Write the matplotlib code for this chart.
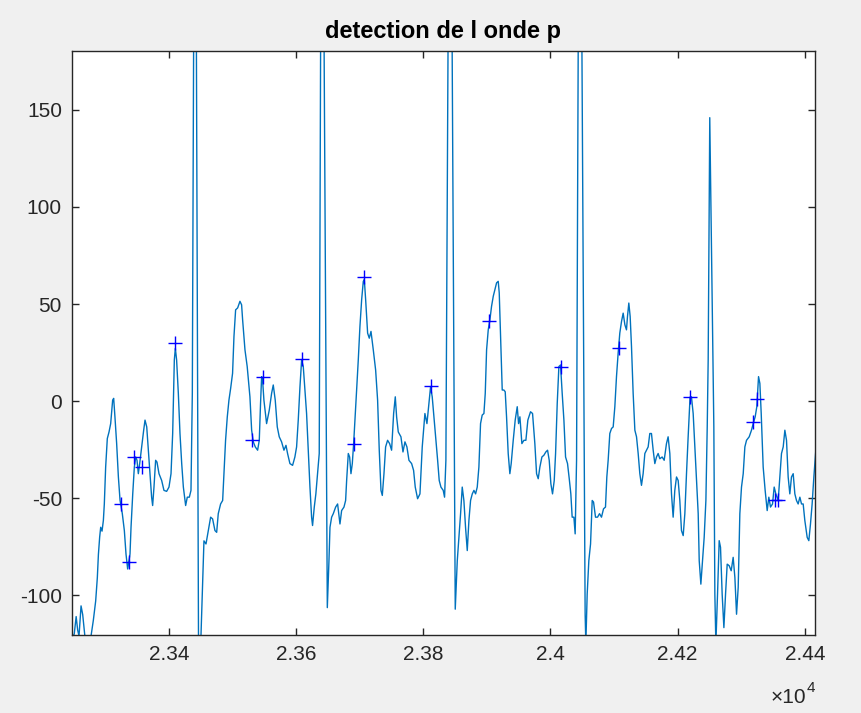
import matplotlib
matplotlib.use("Agg")
import matplotlib.pyplot as plt
from matplotlib.ticker import FixedLocator, FuncFormatter

plt.rcParams['font.family'] = ['Liberation Sans', 'DejaVu Sans']

# ECG signal (sample index, amplitude)
sig_x = [23244, 23251, 23254, 23256.4, 23258.5, 23261.7, 23264.3, 23268, 23273, 23277.4,
         23281, 23284.7, 23287.3, 23289, 23291, 23292.6, 23294.7, 23296.8, 23298.3, 23300.4,
         23303, 23305.7, 23308.3, 23311.4, 23313, 23315, 23317.7, 23320.4, 23323, 23326.6,
         23329.8, 23332.4, 23335, 23338.7, 23340.3, 23343, 23345.5, 23347.6, 23349.7, 23351.8,
         23353.9, 23357, 23360.2, 23362.3, 23365, 23367.5, 23370.1, 23372.7, 23374.3, 23376.4,
         23379, 23381.1, 23384.3, 23388.5, 23392.1, 23396.3, 23400, 23403.2, 23405.8, 23408.4,
         23410, 23412, 23414.7, 23417.3, 23420, 23422.6, 23426.2, 23428.8, 23432, 23434.6,
         23436.7, 23441, 23446.6, 23450.3,
         23455, 23458.2, 23461.8, 23465.5, 23468.6, 23472.3, 23475, 23477.5, 23481.2, 23484.4,
         23486.5, 23489, 23491.7, 23494.3, 23497, 23500, 23502.2, 23504.8, 23508, 23511.6,
         23514.2, 23515.8, 23519.5, 23523, 23527.3, 23530, 23532.6, 23535.7, 23539.4, 23542,
         23544, 23545.7, 23547.2, 23549.3, 23553.5, 23557.7, 23561.4, 23564, 23567.1, 23570.3,
         23573.4, 23577.1, 23580.8, 23584, 23586.5, 23590.2, 23594.4, 23598, 23600.7, 23603.3,
         23606, 23608.6, 23611.2, 23613.8, 23616.4, 23619, 23621.7, 23624.3, 23625.8, 23628.5,
         23631, 23633.7, 23636.3, 23640.5, 23649,
         23651.6, 23653.2, 23655.8, 23658.4, 23662.1, 23665.2, 23668.9, 23671.5, 23675.2, 23677.8,
         23679.4, 23682, 23684.1, 23686.2, 23688.3, 23690.4, 23692.5, 23695.1, 23697.7, 23700.3,
         23703, 23705.6, 23707.2, 23709.3, 23712.4, 23715, 23717.7, 23721.3, 23725, 23728.1,
         23730.7, 23733.4, 23735.5, 23738.1, 23740.7, 23743.8, 23747, 23750.1, 23753.3, 23755.9,
         23758, 23760.6, 23764.8, 23768, 23771.1, 23774.2, 23777.4, 23781.6, 23784.7, 23787.3,
         23791, 23794.7, 23798.3, 23802.5, 23805.7, 23808.3, 23811.4, 23814, 23816.7, 23819.8,
         23822.5, 23825, 23827.7, 23831.3, 23833.4, 23835.5, 23842, 23850.2,
         23853.4, 23856, 23858.6, 23861.2, 23863.8, 23866.4, 23869.1, 23871.7, 23874.3, 23877,
         23879.6, 23882.2, 23884.8, 23887.4, 23890, 23892.6, 23895.3, 23897.4, 23899.5, 23902.1,
         23904.7, 23907.3, 23910, 23912.6, 23915.2, 23917.8, 23919.4, 23921.5, 23924.1, 23926.7,
         23928.8, 23930.9, 23933.5, 23936.1, 23938.2, 23941.4, 23944.5, 23947.7, 23949.8, 23951.9,
         23955, 23958.2, 23961.3, 23964.4, 23968.6, 23971.8, 23975.4, 23978.1, 23980.7, 23983.3,
         23986.5, 23989.6, 23992.7, 23995.4, 23998, 24000.6, 24003.2, 24005.9, 24008, 24010.6,
         24013.2, 24015.8, 24018.4, 24021.1, 24023.7, 24026.8, 24029.5, 24032, 24034.1, 24036.8,
         24038.8, 24041, 24046, 24054.5, 24055.6,
         24057.7, 24060.3, 24063, 24065.6, 24067.7, 24070.8, 24074, 24077.1, 24080.2, 24083.4,
         24086.5, 24088.6, 24090.7, 24093.3, 24096, 24098.6, 24101.2, 24103.8, 24106.4, 24109,
         24111.7, 24114.3, 24117, 24119.5, 24121.1, 24123.2, 24125.3, 24127.4, 24130, 24132.7,
         24135.3, 24137.9, 24140.5, 24143.1, 24145.7, 24148.4, 24151, 24153.6, 24156.2, 24158.8,
         24161.5, 24164.1, 24166.7, 24169.3, 24172, 24175.6, 24178.8, 24182.4, 24185, 24187.7,
         24190.3, 24192.9, 24195.5, 24198.2, 24200.8, 24203.4, 24206, 24208.7, 24211.3, 24213.9,
         24216.5, 24219.5, 24221.7, 24224.4, 24227.1, 24229.7, 24232.3, 24233.9, 24236.5, 24239.1,
         24241.7, 24244.4, 24246.5, 24248, 24250.5, 24256.9, 24258.5, 24260.1,
         24262.7, 24265.3, 24267.4, 24270, 24272.7, 24275.3, 24277.9, 24281, 24284.2, 24287.3,
         24290, 24292.6, 24295.2, 24297.8, 24300.4, 24303.1, 24305.7, 24308.3, 24312.5, 24316.1,
         24318.8, 24321.9, 24324.5, 24327.2, 24329.3, 24331.4, 24334.5, 24337.6, 24340.8, 24343.4,
         24346, 24349.2, 24351.8, 24354.4, 24358.1, 24360.7, 24363.3, 24366, 24368.6, 24371.2,
         24373.8, 24376.4, 24379, 24381.7, 24384.3, 24386.9, 24389.5, 24392.2, 24394.8, 24397.4,
         24400, 24403.7, 24406.3, 24408.9, 24411.5, 24414.2, 24417.3, 24420]

sig_y = [-124, -120, -111, -118, -121, -105.5, -110, -122, -123, -121,
         -113, -103, -91, -79, -70, -65, -67, -61.5, -53, -34,
         -19.3, -15.9, -11.6, 0.5, 1.4, -8.1, -21.9, -39, -51, -58,
         -66.7, -78.8, -86.5, -78.8, -65, -47.8, -34, -28.8, -30.5, -37.4,
         -32.2, -23.6, -15, -9.8, -13.3, -25.3, -37.4, -49.5, -53.8, -44.3,
         -30.5, -31.4, -37.4, -40.9, -46, -46.5, -44.3, -37.4, -16.7, 21.2,
         27.2, 21.2, 4, -16.7, -32.2, -44.3, -53.8, -49.5, -49.5, -46,
         4, 380, -140, -121,
         -72, -73.6, -66.7, -59.8, -60.7, -66.7, -67.6, -58, -53, -51.2,
         -37.4, -20.2, -8.1, 0.5, 6.6, 14.3, 33.3, 47, 48, 51.4,
         49.6, 41.9, 26.4, 17.8, 2.2, -15, -21, -23.6, -25.3, -20.2,
         -1.2, 12.6, 10.9, 0.5, -11.6, -4.7, 4, 8.3, 0.5, -13.3,
         -18.4, -21, -25.3, -22.8, -27, -32.2, -33.1, -28.8, -23.6, -9.8,
         7.4, 21.2, 17.8, 5.7, -6.4, -25.3, -44.3, -59.8, -64.1, -54.6,
         -47.8, -37.4, -27, 380, -106.4,
         -82.2, -65, -59.8, -58, -54.6, -53, -63.3, -56.4, -54.6, -51.2,
         -40.9, -27, -28.8, -37.4, -32.2, -21.9, -9.8, 5.7, 21.2, 38.4,
         52.2, 61.7, 62.6, 52.2, 35, 32.4, 35.9, 26.4, 16, 0.5,
         -25.3, -46, -48.6, -37.4, -23.6, -20.2, -21.9, -25.3, -6.4, 2.2,
         -8.1, -15.9, -18.4, -26.2, -21, -23.6, -30.5, -32.2, -35.7, -44.3,
         -50.3, -47.8, -23.6, -6.4, -11.6, -2.9, 7.4, 2.2, -8.1, -20.2,
         -30.5, -40.9, -44.3, -46, -49.5, -30.5, 380, -107.2,
         -82.2, -70.2, -58, -44.3, -51.2, -65, -77, -61.5, -51.2, -47.8,
         -46, -47.8, -44.3, -34, -11.6, -7.2, -6.4, 4, 26.4, 36.7,
         41.9, 48.8, 54, 57.4, 60.9, 61.7, 55.7, 33.3, 5.7, 5.7,
         4.8, -8.1, -27, -37.4, -32.2, -20.2, -9.8, -2.9, -11.6, -8.1,
         -21.9, -20.2, -20.2, -9.8, -5.5, -6.4, -21.9, -37.4, -40, -34,
         -28.8, -27.9, -26.2, -25.3, -30.5, -42.6, -47.8, -40.9, -27, -1.2,
         17.8, 18.6, 4, -9.8, -28.8, -32.2, -40, -47.8, -59.8, -59.8,
         -68.4, -30.5, 380, -110, -125,
         -99.5, -82.2, -73.6, -51.2, -52, -59.8, -59.8, -58, -59.8, -55.5,
         -54.6, -39.1, -30.5, -16.7, -14.1, -13.3, -2.9, 12.6, 24.7, 35,
         41, 45.3, 39.3, 36.7, 43.6, 50.5, 43.6, 28.1, 4, -15,
         -18.4, -27, -37.4, -43.4, -37.4, -27, -25.3, -23.6, -16.7, -16.7,
         -25.3, -32.2, -28.8, -27, -29.7, -28.8, -30.5, -21.9, -18.4, -27,
         -47.8, -59.8, -46, -39.1, -40.9, -51.2, -66.7, -69.3, -58, -37.4,
         -18.4, 2, 2.2, -6.4, -23.6, -40.9, -58, -82.2, -94.3, -82.2,
         -70.2, -51.2, -13.3, 21.2, 146, -13.3, -99.5, -125,
         -99.5, -71.9, -75.3, -99.5, -116.7, -99.5, -84, -84.8, -87.4, -80.5,
         -90.9, -109.8, -96, -58, -44.3, -37.4, -23.6, -20.2, -18.4, -15,
         -11.6, -8.1, -2.9, 12.6, 9.1, -6.4, -34, -46, -56.4, -49.5,
         -54.6, -53, -44.3, -47.8, -51.2, -39.1, -27, -23.6, -15, -20.2,
         -39.1, -47.8, -39.1, -37.4, -47.8, -51.2, -53, -49.5, -53, -53,
         -61.5, -70.2, -71.9, -63.3, -53, -39.1, -25.3, -15]

# Detected P-wave points
p_x = [23324.5, 23337.6, 23345.5, 23357, 23410, 23530.5, 23547.3, 23609.6, 23690.9, 23707.2,
       23812, 23903.7, 24016.3, 24108, 24220, 24318.8, 24324, 24352.8, 24358.1]
p_y = [-53, -83, -29, -34, 30, -20, 12.6, 21.9, -22.2, 64,
       7.8, 41.5, 17.8, 27.2, 2, -10.9, 0.9, -51, -51]

title_text = "detection de l onde p"
x_ticks = [23400, 23600, 23800, 24000, 24200, 24400]
y_ticks = [-100, -50, 0, 50, 100, 150]
x_lim = (23247, 24416)
y_lim = (-120.5, 180.5)

W, H = 862, 713
fig = plt.figure(figsize=(W / 100, H / 100), dpi=100, facecolor='#f0f0f0')
ax = fig.add_axes([71.7 / W, 1 - 635 / H, (815 - 71.7) / W, (635 - 50.7) / H])
ax.set_facecolor('white')

ax.plot(sig_x, sig_y, color=(0, 0.447, 0.741), linewidth=1.0, zorder=2)
ax.plot(p_x, p_y, linestyle='none', marker='+', color=(0, 0, 1),
        markersize=10, markeredgewidth=1.0, zorder=3)

ax.set_xlim(*x_lim)
ax.set_ylim(*y_lim)
ax.xaxis.set_major_locator(FixedLocator(x_ticks))
ax.yaxis.set_major_locator(FixedLocator(y_ticks))
ax.xaxis.set_major_formatter(FuncFormatter(lambda v, p: f"{v / 1e4:g}"))
ax.yaxis.set_major_formatter(FuncFormatter(lambda v, p: f"{v:g}"))

axis_col = '#262626'
for s in ax.spines.values():
    s.set_color(axis_col)
    s.set_linewidth(1.0)
ax.tick_params(direction='in', length=5, width=1.0, color=axis_col,
               labelcolor=axis_col, labelsize=15, top=True, right=True)
ax.tick_params(axis='x', pad=7)
ax.tick_params(axis='y', pad=7)

ax.set_title(title_text, fontsize=17, fontweight='bold', color='black', pad=9)

ax.text(0.988, -0.107, '\u00d710', transform=ax.transAxes, ha='right', va='center',
        fontsize=15, color=axis_col)
ax.text(0.9885, -0.090, '4', transform=ax.transAxes, ha='left', va='center',
        fontsize=11, color=axis_col)

fig.savefig('out.png', dpi=100, facecolor=fig.get_facecolor())
